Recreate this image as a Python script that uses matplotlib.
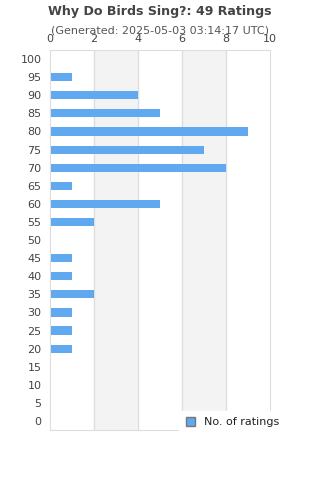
import matplotlib.pyplot as plt
from matplotlib.patches import Patch

categories = [100, 95, 90, 85, 80, 75, 70, 65, 60, 55, 50, 45, 40, 35, 30, 25, 20, 15, 10, 5, 0]
ratings = [0, 1, 4, 5, 9, 7, 8, 1, 5, 2, 0, 1, 1, 2, 1, 1, 1, 0, 0, 0, 0]
x_ticks = [0, 2, 4, 6, 8, 10]

BAR = '#60a8f0'
TXT = '#444444'

fig = plt.figure(figsize=(3.2, 4.8), dpi=100)
ax = fig.add_axes([0.156, 0.104, 0.6875, 0.7917])

# shaded bands behind bars
for lo in [2, 6]:
    ax.axvspan(lo, lo + 2, color='#f3f3f3', zorder=0)
for x in x_ticks[1:-1]:
    ax.axvline(x, color='#dddddd', lw=0.9, zorder=1)

pos = list(range(len(categories)))
ax.barh(pos, ratings, height=0.45, color=BAR, zorder=2)

ax.set_ylim(len(categories) - 0.5, -0.5)
ax.set_yticks(pos)
ax.set_yticklabels([str(c) for c in categories])
ax.set_xlim(0, 10)
ax.set_xticks(x_ticks)
ax.xaxis.tick_top()
ax.tick_params(axis='both', length=0, labelsize=8, colors=TXT)
ax.tick_params(axis='x', pad=4.5)
ax.tick_params(axis='y', pad=6)
for s in ax.spines.values():
    s.set_color('#dddddd')

fig.text(0.5, 0.977, 'Why Do Birds Sing?: 49 Ratings', ha='center', va='center',
         fontsize=9.1, fontweight='bold', color=TXT)
fig.text(0.5, 0.937, '(Generated: 2025-05-03 03:14:17 UTC)', ha='center', va='center',
         fontsize=8, color='#555555')

handle = Patch(facecolor=BAR, edgecolor='#777777', lw=1)
fig.legend([handle], ['No. of ratings'], loc='center left', bbox_to_anchor=(0.543, 0.12),
           frameon=True, fancybox=False, edgecolor='white', framealpha=1,
           fontsize=8, handlelength=0.8, handleheight=0.8, borderpad=0.6,
           labelcolor='#222222')

fig.savefig('out.png', dpi=100)
